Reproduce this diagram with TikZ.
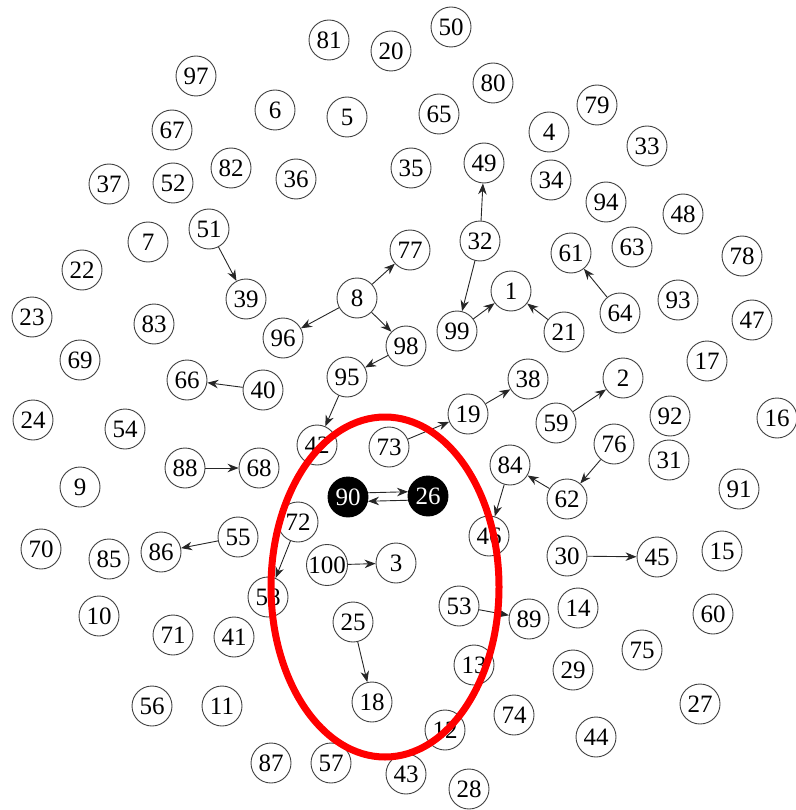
\documentclass[tikz,border=0pt]{standalone}
\usepackage{fontspec}
\setmainfont{Liberation Serif}
\usetikzlibrary{arrows.meta}
\begin{document}
\begin{tikzpicture}[x=1pt,y=-1pt,
  vtx/.style={circle, draw=black!75, line width=0.9pt, fill=white, minimum size=40pt, inner sep=0pt, font=\fontsize{25}{25}\selectfont},
  hot/.style={vtx, fill=black, draw=black, text=white},
  arr/.style={-{Stealth[length=11pt,width=8.5pt]}, line width=0.9pt, draw=black!85},
  hl/.style={draw=red, line width=7pt}]
\useasboundingbox (0,0) rectangle (795,810);
% row by row
\node[vtx] (n81) at (329,40) {81};
\node[vtx] (n20) at (391,51) {20};
\node[vtx] (n50) at (451,27) {50};
\node[vtx] (n97) at (196,76) {97};
\node[vtx] (n6) at (275,110) {6};
\node[vtx] (n5) at (347,117) {5};
\node[vtx] (n65) at (439,114) {65};
\node[vtx] (n80) at (493,83) {80};
\node[vtx] (n79) at (597,105) {79};
\node[vtx] (n4) at (549,132) {4};
\node[vtx] (n33) at (647,146) {33};
\node[vtx] (n67) at (172,130) {67};
\node[vtx] (n37) at (109,184) {37};
\node[vtx] (n52) at (173,183) {52};
\node[vtx] (n82) at (231,168) {82};
\node[vtx] (n36) at (296,179) {36};
\node[vtx] (n35) at (411,168) {35};
\node[vtx] (n49) at (484,163) {49};
\node[vtx] (n34) at (551,180) {34};
\node[vtx] (n94) at (606,202) {94};
\node[vtx] (n48) at (683,214) {48};
\node[vtx] (n7) at (148,242) {7};
\node[vtx] (n51) at (209,229) {51};
\node[vtx] (n22) at (82,270) {22};
\node[vtx] (n77) at (410,250) {77};
\node[vtx] (n32) at (480,241) {32};
\node[vtx] (n61) at (571,253) {61};
\node[vtx] (n63) at (632,247) {63};
\node[vtx] (n78) at (742,256) {78};
\node[vtx] (n39) at (246,299) {39};
\node[vtx] (n8) at (357,298) {8};
\node[vtx] (n23) at (32,317) {23};
\node[vtx] (n83) at (154,324) {83};
\node[vtx] (n96) at (283,338) {96};
\node[vtx] (n99) at (457,331) {99};
\node[vtx] (n1) at (511,291) {1};
\node[vtx] (n21) at (564,332) {21};
\node[vtx] (n64) at (620,313) {64};
\node[vtx] (n93) at (678,300) {93};
\node[vtx] (n47) at (752,320) {47};
\node[vtx] (n98) at (406,346) {98};
\node[vtx] (n69) at (80,360) {69};
\node[vtx] (n66) at (187,380) {66};
\node[vtx] (n40) at (263,390) {40};
\node[vtx] (n95) at (347,377) {95};
\node[vtx] (n38) at (528,379) {38};
\node[vtx] (n2) at (623,378) {2};
\node[vtx] (n17) at (707,361) {17};
\node[vtx] (n24) at (33,420) {24};
\node[vtx] (n54) at (125,429) {54};
\node[vtx] (n19) at (468,414) {19};
\node[vtx] (n59) at (556,423) {59};
\node[vtx] (n92) at (670,416) {92};
\node[vtx] (n16) at (777,418) {16};
\node[vtx] (n42) at (317,445) {42};
\node[vtx] (n73) at (389,447) {73};
\node[vtx] (n88) at (185,468) {88};
\node[vtx] (n68) at (259,468) {68};
\node[vtx] (n76) at (614,444) {76};
\node[vtx] (n31) at (669,460) {31};
\node[vtx] (n84) at (510,465) {84};
\node[vtx] (n9) at (80,487) {9};
\node[vtx] (n62) at (567,499) {62};
\node[vtx] (n91) at (739,489) {91};
\node[hot] (n90) at (348,497) {90};
\node[hot] (n26) at (428,496) {26};
\node[vtx] (n72) at (298,522) {72};
\node[vtx] (n46) at (489,536) {46};
\node[vtx] (n70) at (41,549) {70};
\node[vtx] (n85) at (109,559) {85};
\node[vtx] (n86) at (161,552) {86};
\node[vtx] (n55) at (238,537) {55};
\node[vtx] (n100) at (327,565) {100};
\node[vtx] (n3) at (396,563) {3};
\node[vtx] (n30) at (567,556) {30};
\node[vtx] (n45) at (657,557) {45};
\node[vtx] (n15) at (722,551) {15};
\node[vtx] (n58) at (268,597) {58};
\node[vtx] (n53) at (459,606) {53};
\node[vtx] (n89) at (529,619) {89};
\node[vtx] (n14) at (578,608) {14};
\node[vtx] (n60) at (713,614) {60};
\node[vtx] (n10) at (99,616) {10};
\node[vtx] (n71) at (173,635) {71};
\node[vtx] (n41) at (234,637) {41};
\node[vtx] (n25) at (353,622) {25};
\node[vtx] (n13) at (474,665) {13};
\node[vtx] (n75) at (642,650) {75};
\node[vtx] (n29) at (573,670) {29};
\node[vtx] (n56) at (152,706) {56};
\node[vtx] (n11) at (222,706) {11};
\node[vtx] (n18) at (372,702) {18};
\node[vtx] (n74) at (514,715) {74};
\node[vtx] (n27) at (700,704) {27};
\node[vtx] (n12) at (445,730) {12};
\node[vtx] (n44) at (596,737) {44};
\node[vtx] (n87) at (271,763) {87};
\node[vtx] (n57) at (331,763) {57};
\node[vtx] (n43) at (406,774) {43};
\node[vtx] (n28) at (469,789) {28};
% connectors
\draw[arr] (n51) -- (n39);
\draw[arr] (n8) -- (n77);
\draw[arr] (n8) -- (n96);
\draw[arr] (n8) -- (n98);
\draw[arr] (n98) -- (n95);
\draw[arr] (n95) -- (n42);
\draw[arr] (n40) -- (n66);
\draw[arr] (n88) -- (n68);
\draw[arr] (n32) -- (n49);
\draw[arr] (n32) -- (n99);
\draw[arr] (n99) -- (n1);
\draw[arr] (n21) -- (n1);
\draw[arr] (n64) -- (n61);
\draw[arr] (n73) -- (n19);
\draw[arr] (n19) -- (n38);
\draw[arr] (n59) -- (n2);
\draw[arr] (n76) -- (n62);
\draw[arr] (n62) -- (n84);
\draw[arr] (n84) -- (n46);
\draw[arr] (n90.12) -- (n26.168);
\draw[arr] (n26.192) -- (n90.348);
\draw[arr] (n72) -- (n58);
\draw[arr] (n55) -- (n86);
\draw[arr] (n100) -- (n3);
\draw[arr] (n30) -- (n45);
\draw[arr] (n53) -- (n89);
\draw[arr] (n25) -- (n18);
% highlight
\draw[hl] (385,587) ellipse [x radius=114pt, y radius=170pt];
\end{tikzpicture}
\end{document}
